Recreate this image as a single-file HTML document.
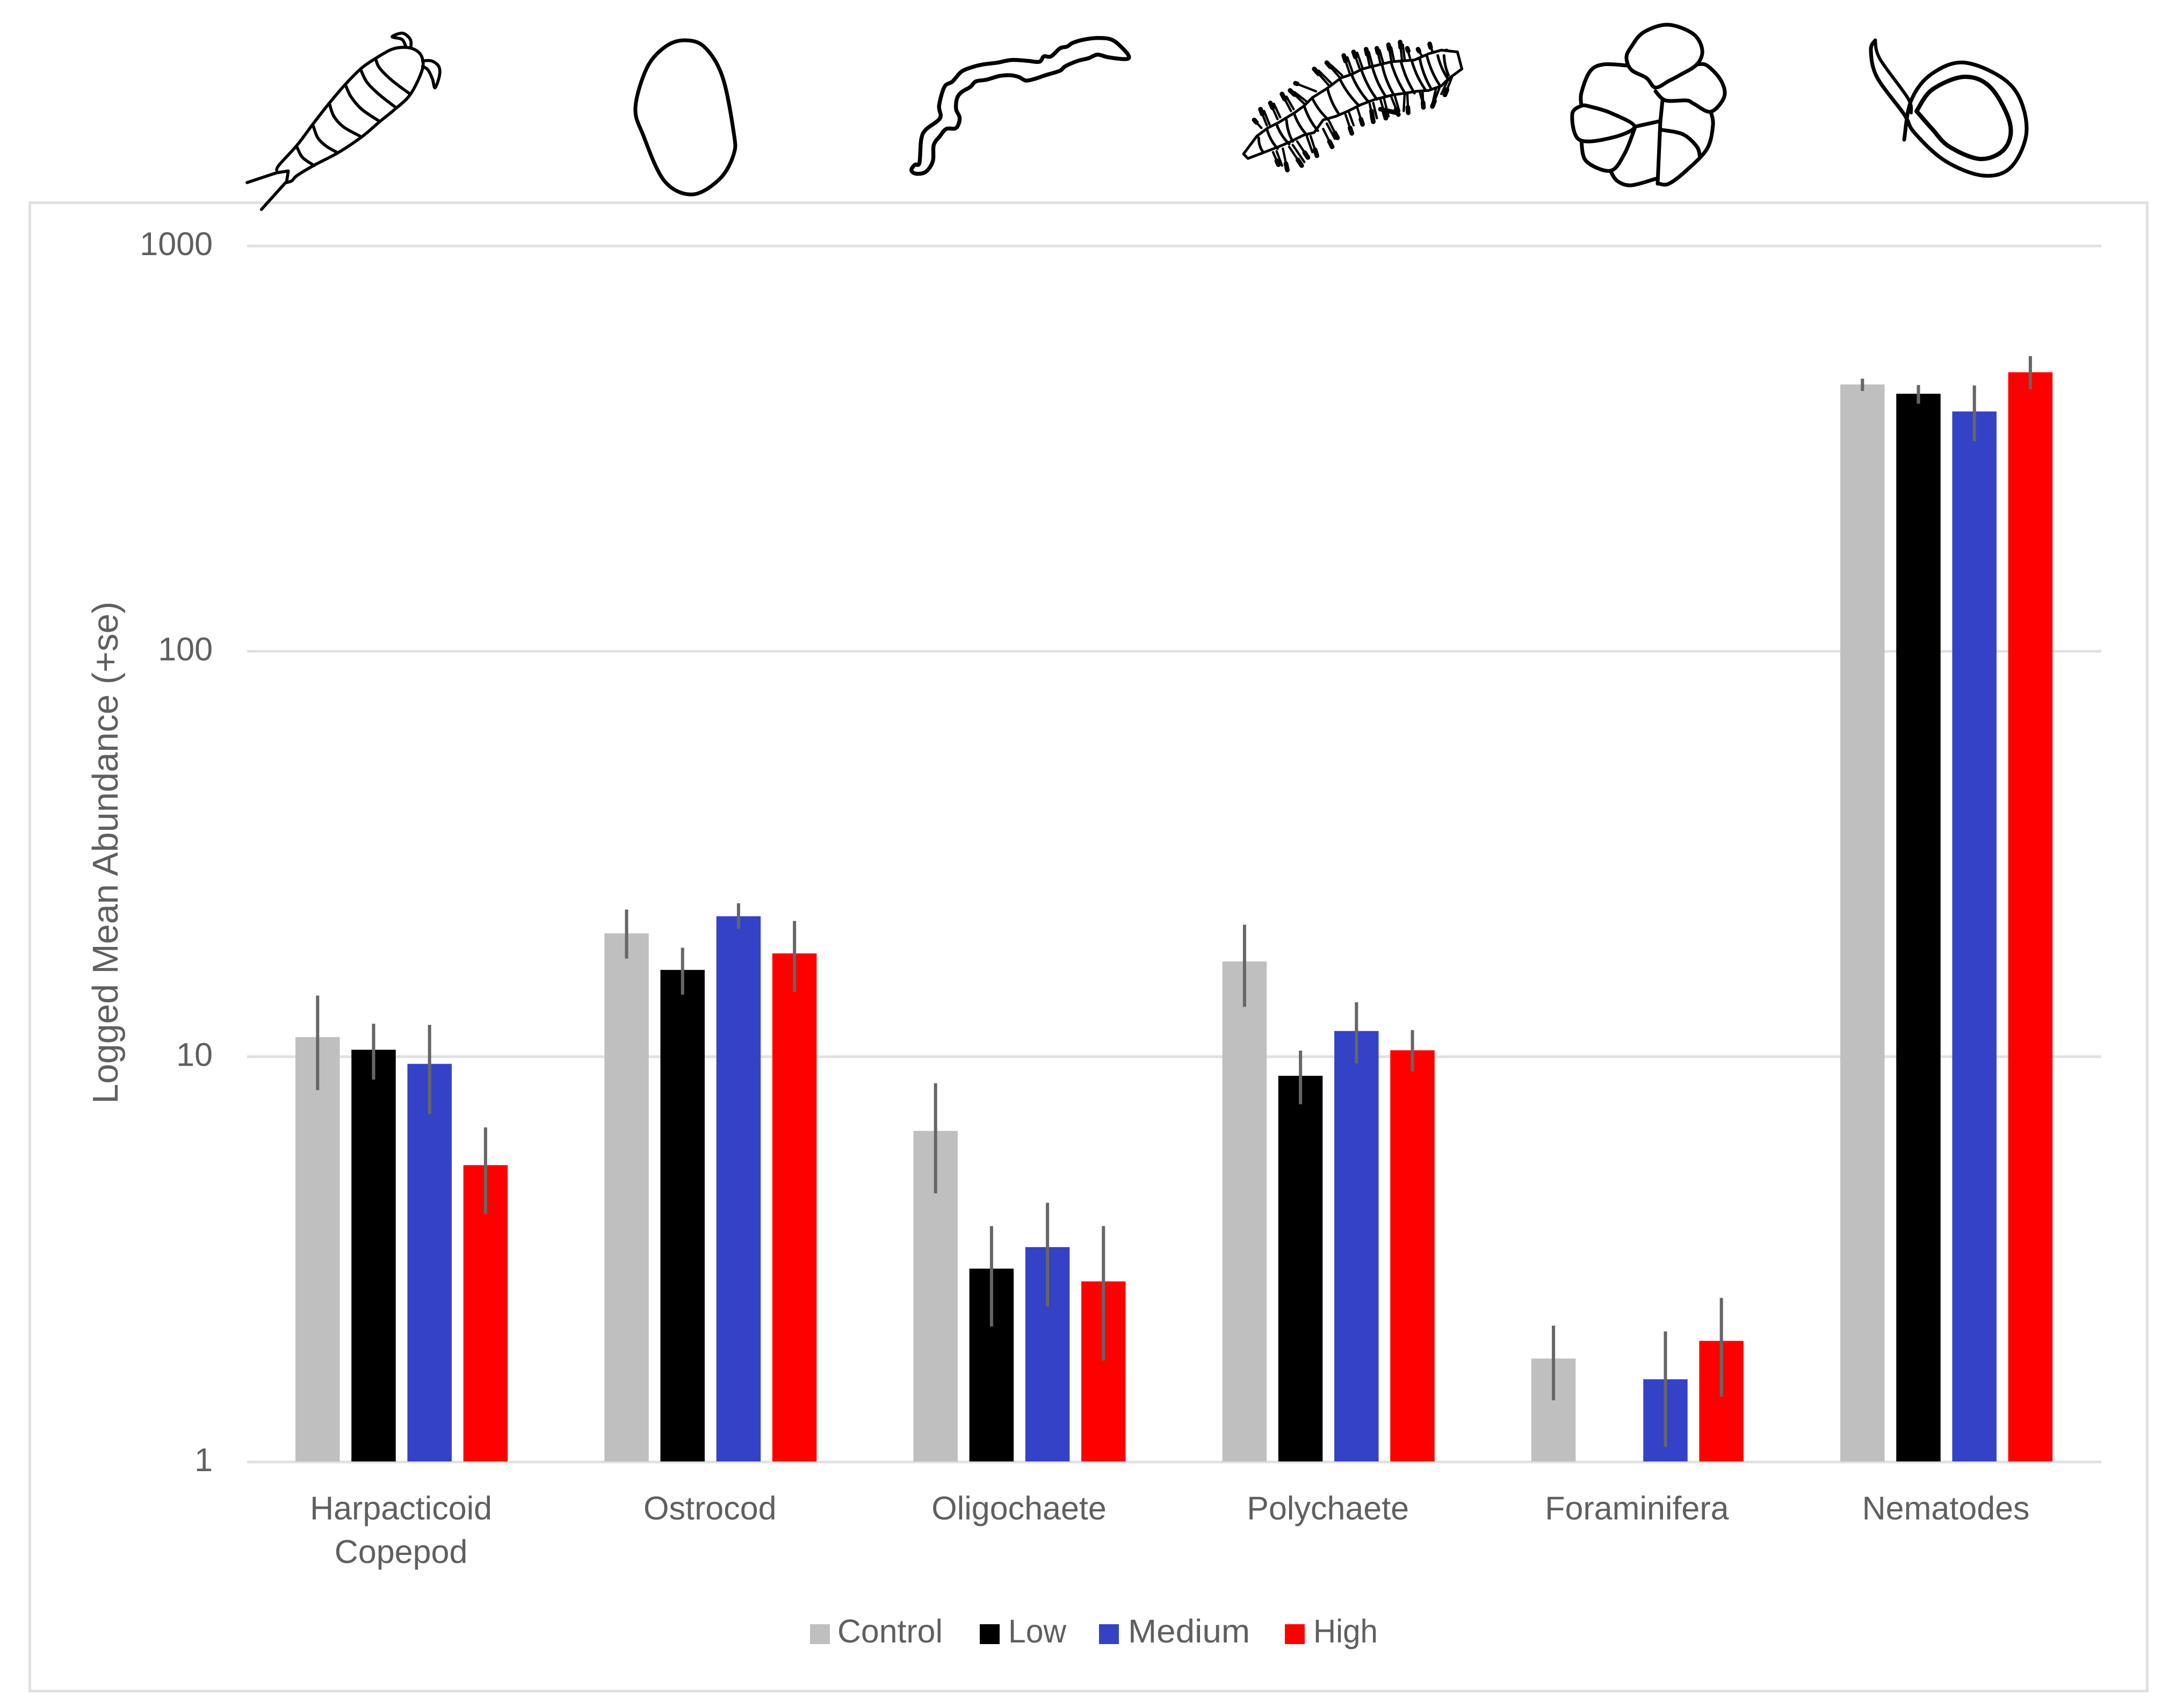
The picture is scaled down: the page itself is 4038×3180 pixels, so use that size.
<!DOCTYPE html>
<html lang="en">
<head>
<meta charset="utf-8">
<title>Logged Mean Abundance by Taxon</title>
<style>
  html, body { margin: 0; padding: 0; background: #fff; }
  svg { display: block; }
  text { font-family: "Liberation Sans", sans-serif; fill: #5f5f5f; }
  .ink { fill: none; stroke: #000; stroke-linejoin: round; stroke-linecap: round; }
</style>
</head>
<body>
<svg id="figure" xmlns="http://www.w3.org/2000/svg" width="4038" height="3180" viewBox="0 0 4038 3180">
  <rect x="0" y="0" width="4038" height="3180" fill="#ffffff"/>
  <rect x="55.500" y="377.500" width="3942" height="2771" fill="#ffffff" stroke="#e0e0e0" stroke-width="5"/>

  <g id="chart"></g>

  <!-- Harpacticoid copepod icon -->
  <g transform="translate(440,40) scale(0.3333)" class="ink" stroke-width="17">
    <path class="ink sm" data-pts="225,830 240,800 340,690 430,570 520,455 610,350 700,260 780,205 870,155 950,145 1010,165 1040,210 1035,280 970,410 880,495 800,560 700,645 565,735 440,800 340,860 310,890 280,900"/>
    <path class="ink" d="M280 900L290 835L225 845L60 900M275 900L140 1050"/>
    <path class="ink sm" data-pts="780,215 800,260 870,330 970,405"/>
    <path class="ink sm" data-pts="695,270 730,340 800,410 890,480"/>
    <path class="ink sm" data-pts="610,355 640,420 700,490 795,555"/>
    <path class="ink sm" data-pts="520,460 545,530 600,590 690,640"/>
    <path class="ink sm" data-pts="430,585 455,650 500,695 560,730"/>
    <path class="ink sm" data-pts="340,705 370,760 435,805"/>
    <path class="ink sm" data-pts="945,135 925,100 870,85 925,65 960,85 975,110 975,145"/>
    <path class="ink sm" data-pts="1040,220 1090,220 1130,250 1135,300 1110,370 1095,320 1070,270 1040,250"/>
  </g>

  <!-- Ostracod icon -->
  <path class="ink sm" data-closed="1" stroke-width="7" data-pts="1276,75 1240,86 1205,125 1183,200 1198,253 1237,337 1289,362 1340,333 1366,287 1366,247 1345,143 1312,88"/>

  <!-- Oligochaete icon -->
  <g transform="translate(1680,50) scale(0.3333)">
    <path class="ink sm" data-closed="1" stroke-width="22" data-pts="75,820 50,800 70,770 95,760 105,630 130,575 210,510 205,440 235,335 280,305 330,250 390,225 450,210 530,200 610,185 700,190 765,195 790,165 830,165 880,120 920,110 950,90 1010,72 1090,62 1170,72 1230,120 1265,165 1245,180 1150,170 1090,155 1040,175 980,190 910,220 880,245 800,270 740,290 690,300 650,280 600,270 540,275 470,295 410,305 380,335 330,365 305,400 300,460 320,510 300,565 245,570 210,610 175,660 170,750 130,810"/>
  </g>

  <!-- Polychaete icon -->
  <g transform="translate(2300,60) scale(0.3333)">
    <path class="ink" stroke-width="13" d="M145 535L105 490M175 520L140 430M190 515L160 440M235 485L195 395M250 475L215 400M310 440L260 345M325 430L285 360M385 400L305 325M395 385L330 335M450 330L335 285M520 295L440 205M535 285L465 215M580 250L510 170M595 240L535 185M640 235L605 130M655 225L625 140M695 205L660 110M710 200L680 115M750 190L730 95M765 185L745 110M810 175L790 90M825 170L805 100M870 155L855 70M885 155L870 85M930 155L920 55M945 150L935 70M975 145L960 90M1040 130L1020 95M1105 120L1085 65M210 670L240 740M230 665L260 745M265 650L290 770M300 640L370 745M320 630L385 725M345 610L405 700M420 580L455 690M400 585L430 670M490 540L540 640M525 500L570 590M510 510L555 595M615 460L650 565M635 450L660 520M680 420L710 515M750 400L770 500M770 395L790 480M810 375L840 480M830 370L855 470M870 360L910 460M890 355L915 440M960 345L965 450M945 345L940 440M1045 330L1050 420M1030 335L1045 390M1140 310L1100 415M1120 315L1105 380M1210 250L1170 350M1190 260L1150 345"/>
    <path class="ink" stroke-width="26" d="M117 504L105 490M150 457L140 430M207 422L195 395M275 374L260 345M329 348L305 325M345 288L335 285M464 232L440 205M531 194L510 170M615 161L605 130M670 138L660 110M736 123L730 95M796 115L790 90M860 95L855 70M923 85L920 55M965 105L960 90M1025 105L1020 95M1090 85L1085 65M1090 125L1180 105M231 719L240 740M282 734L290 770M349 713L370 745M387 673L405 700M445 657L455 690M525 610L540 640M556 563L570 590M640 534L650 565M701 486L710 515M764 470L770 500M831 449L840 480M898 430L910 460M963 420L965 450M1048 393L1050 420M1112 384L1100 415M1182 320L1170 350M760 440L770 500M810 430L900 450"/>
    <path fill="#ffffff" stroke="#000" stroke-width="15" stroke-linejoin="round" d="M45 680L120 580L180 535L240 505L330 450L385 410L430 365L510 315L590 255L650 235L710 205L770 190L870 165L1000 155L1080 120L1150 100L1240 110L1265 205L1190 260L1150 300L1080 325L1010 330L950 340L880 350L780 375L700 405L630 440L560 470L490 490L440 560L380 575L300 615L240 640L150 675L70 705Z"/>
    <path class="ink" stroke-width="15" d="M130 590Q130 638 155 670M175 540Q193 603 235 650M230 515Q253 578 300 625M285 490Q290 558 320 610M330 460Q353 525 400 575M385 415Q410 490 460 550M430 370Q463 438 520 490M515 318Q535 397 580 460M585 265Q625 345 690 410M650 240Q683 320 740 385M705 215Q736 303 790 375M765 195Q790 285 840 360M820 185Q840 275 885 350M870 170Q898 265 950 345M925 165Q950 260 1000 340M985 160Q1010 248 1060 320M1030 150Q1048 238 1090 310M1070 135Q1093 223 1140 295M1130 130Q1148 205 1190 265M1165 130Q1168 190 1190 240"/>
  </g>

  <!-- Foraminifera icon -->
  <g class="ink" stroke-width="7">
    <path class="ink sm" data-pts="3105,46 3060,60 3037,87 3028,107 3037,130 3065,145 3082,163 3108,150 3127,140 3159,120 3169,93 3152,63" data-closed="1"/>
    <path class="ink sm" data-pts="3159,120 3178,122 3204,150 3210,180 3185,208 3153,193 3140,187 3101,187 3082,170"/>
    <path class="ink sm" data-pts="3030,122 2985,120 2960,133 2944,173 2944,197"/>
    <path class="ink sm" data-pts="2959,198 2944,197 2927,213 2940,260 2998,257 3043,236 2998,210 2959,198"/>
    <path class="ink" d="M3095 187L3091 227L3086 342M3043 236L3088 226"/>
    <path class="ink sm" data-pts="3185,208 3189,233 3178,277 3140,317 3107,342 3088,342"/>
    <path class="ink sm" data-pts="3095,242 3133,250 3159,273 3165,293"/>
    <path class="ink sm" data-pts="2944,263 2953,300 2998,318 3024,287 3043,240"/>
    <path class="ink sm" data-pts="2998,318 3011,337 3037,345 3082,333"/>
  </g>

  <!-- Nematode icon -->
  <g>
    <path class="ink sm" stroke-width="7" data-pts="3491,75 3483,93 3494,143 3545,213 3564,247 3622,300 3693,327 3745,310 3773,240 3745,160 3661,117 3597,137 3558,187 3545,260"/>
    <path class="ink sm" stroke-width="8" data-pts="3568,207 3597,167 3657,143 3706,163 3742,230 3732,277 3687,296 3629,273 3597,240 3568,207"/>
    <path class="ink sm" stroke-width="6" data-pts="3491,75 3500,110 3552,183 3558,210"/>
  </g>
</svg>

<script>
// Chart data
const categories = ["Harpacticoid|Copepod", "Ostrocod", "Oligochaete", "Polychaete", "Foraminifera", "Nematodes"];
const seriesNames = ["Control", "Low", "Medium", "High"];
const controlValues = [11.18, 20.15, 6.56, 17.18, 1.80, 455.5];
const lowValues = [10.4, 16.37, 3.0, 8.97, null, 432];
const mediumValues = [9.6, 22.2, 3.39, 11.57, 1.6, 390.6];
const highValues = [5.4, 17.98, 2.79, 10.37, 1.99, 488];
const controlErrHigh = [14.15, 23.06, 8.6, 21.16, 2.17, 470.7];
const controlErrLow = [8.27, 17.46, 4.6, 13.27, 1.42, 438.7];
const lowErrHigh = [12.06, 18.57, 3.82, 10.35, null, 454];
const lowErrLow = [8.78, 14.22, 2.16, 7.63, null, 408];
const mediumErrHigh = [11.98, 23.9, 4.36, 13.62, 2.10, 452.8];
const mediumErrLow = [7.22, 20.67, 2.42, 9.62, 1.09, 329.7];
const highErrHigh = [6.69, 21.62, 3.82, 11.63, 2.54, 535];
const highErrLow = [4.09, 14.44, 1.78, 9.2, 1.45, 443];
const yTicks = [1, 10, 100, 1000];
const yTickLabels = ["1", "10", "100", "1000"];
const yAxisTitle = "Logged Mean Abundance (+se)";
const seriesColors = ["#bfbfbf", "#000000", "#3442c8", "#ff0000"];

const allValues = [controlValues, lowValues, mediumValues, highValues];
const allErrHigh = [controlErrHigh, lowErrHigh, mediumErrHigh, highErrHigh];
const allErrLow = [controlErrLow, lowErrLow, mediumErrLow, highErrLow];

const NS = "http://www.w3.org/2000/svg";
const chart = document.getElementById("chart");

// Axis functions
const plotLeft = 460, plotRight = 3912;
const yBase = 2722, decadeHeight = 754.67;
function yScale(v) { return yBase - decadeHeight * Math.log10(v); }
const bandStep = 575.2, barStep = 104.2, barWidth = 82.5;
function bandCenter(i) { return plotLeft + bandStep * (i + 0.5); }
function barLeft(i, s) { return bandCenter(i) + (s - seriesNames.length / 2) * barStep + (barStep - barWidth) / 2; }

function make(tag, attrs, parent) {
  const el = document.createElementNS(NS, tag);
  for (const k in attrs) el.setAttribute(k, attrs[k]);
  (parent || chart).appendChild(el);
  return el;
}

// Gridlines and y tick labels
yTicks.forEach(function (t, i) {
  const line = make("rect", { x: plotLeft, y: yScale(t) - 2.5, width: plotRight - plotLeft, height: 5, fill: "#e0e0e0" });
  
  
  const label = make("text", { x: 396, y: yScale(t) + 17, "text-anchor": "end", "font-size": 61 });
  
  
  label.textContent = yTickLabels[i];
});

// Y axis title
const yTitle = make("text", { transform: "translate(219,2055) rotate(-90)", "font-size": 67, textLength: 935, lengthAdjust: "spacingAndGlyphs" });


yTitle.textContent = yAxisTitle;

// Bars
categories.forEach(function (c, i) {
  seriesNames.forEach(function (name, s) {
    const v = allValues[s][i];
    if (v === null) return;
    const bar = make("rect", { x: barLeft(i, s), y: yScale(v), width: barWidth, height: yBase - 1 - yScale(v), fill: seriesColors[s] });
    
    
  });
});

// Error bars
categories.forEach(function (c, i) {
  seriesNames.forEach(function (name, s) {
    const hi = allErrHigh[s][i], lo = allErrLow[s][i];
    if (hi === null || lo === null) return;
    const cx = barLeft(i, s) + barWidth / 2;
    const err = make("rect", { x: cx - 3, y: yScale(hi), width: 6, height: yScale(lo) - yScale(hi), fill: "#666666" });
    
    
  });
});

// Category labels
categories.forEach(function (c, i) {
  c.split('|').forEach(function (part, n) {
    const label = make("text", { x: bandCenter(i) - 1, y: 2829 + n * 81, "text-anchor": "middle", "font-size": 61 });
    
    
    label.textContent = part;
  });
});

// Legend
const legendSwatchX = [1508, 1824, 2046, 2392];
const legendTextX = [1559, 1877, 2100, 2445];
const legendTextWidth = [196, 108, 227, 120];
seriesNames.forEach(function (name, s) {
  const swatch = make("rect", { x: legendSwatchX[s], y: 3024, width: 37, height: 37, fill: seriesColors[s] });
  
  
  const text = make("text", { x: legendTextX[s], y: 3058, "font-size": 61, textLength: legendTextWidth[s], lengthAdjust: "spacingAndGlyphs" });
  
  
  text.textContent = name;
});

// Smooth the traced icon outlines
function smoothPath(pts, closed) {
  const n = pts.length;
  const at = function (i) { return closed ? pts[(i + n) % n] : pts[Math.max(0, Math.min(n - 1, i))]; };
  let d = "M" + pts[0][0] + " " + pts[0][1];
  const last = closed ? n : n - 1;
  for (let i = 0; i < last; i++) {
    const p0 = at(i - 1), p1 = at(i), p2 = at(i + 1), p3 = at(i + 2);
    const c1x = p1[0] + (p2[0] - p0[0]) / 6, c1y = p1[1] + (p2[1] - p0[1]) / 6;
    const c2x = p2[0] - (p3[0] - p1[0]) / 6, c2y = p2[1] - (p3[1] - p1[1]) / 6;
    d += "C" + c1x.toFixed(1) + " " + c1y.toFixed(1) + " " + c2x.toFixed(1) + " " + c2y.toFixed(1) + " " + p2[0] + " " + p2[1];
  }
  return closed ? d + "Z" : d;
}
document.querySelectorAll("path.sm").forEach(function (p) {
  const pts = p.getAttribute("data-pts").trim().split(/\s+/).map(function (s) { return s.split(",").map(Number); });
  p.setAttribute("d", smoothPath(pts, p.getAttribute("data-closed") === "1"));
});
</script>
</body>
</html>
